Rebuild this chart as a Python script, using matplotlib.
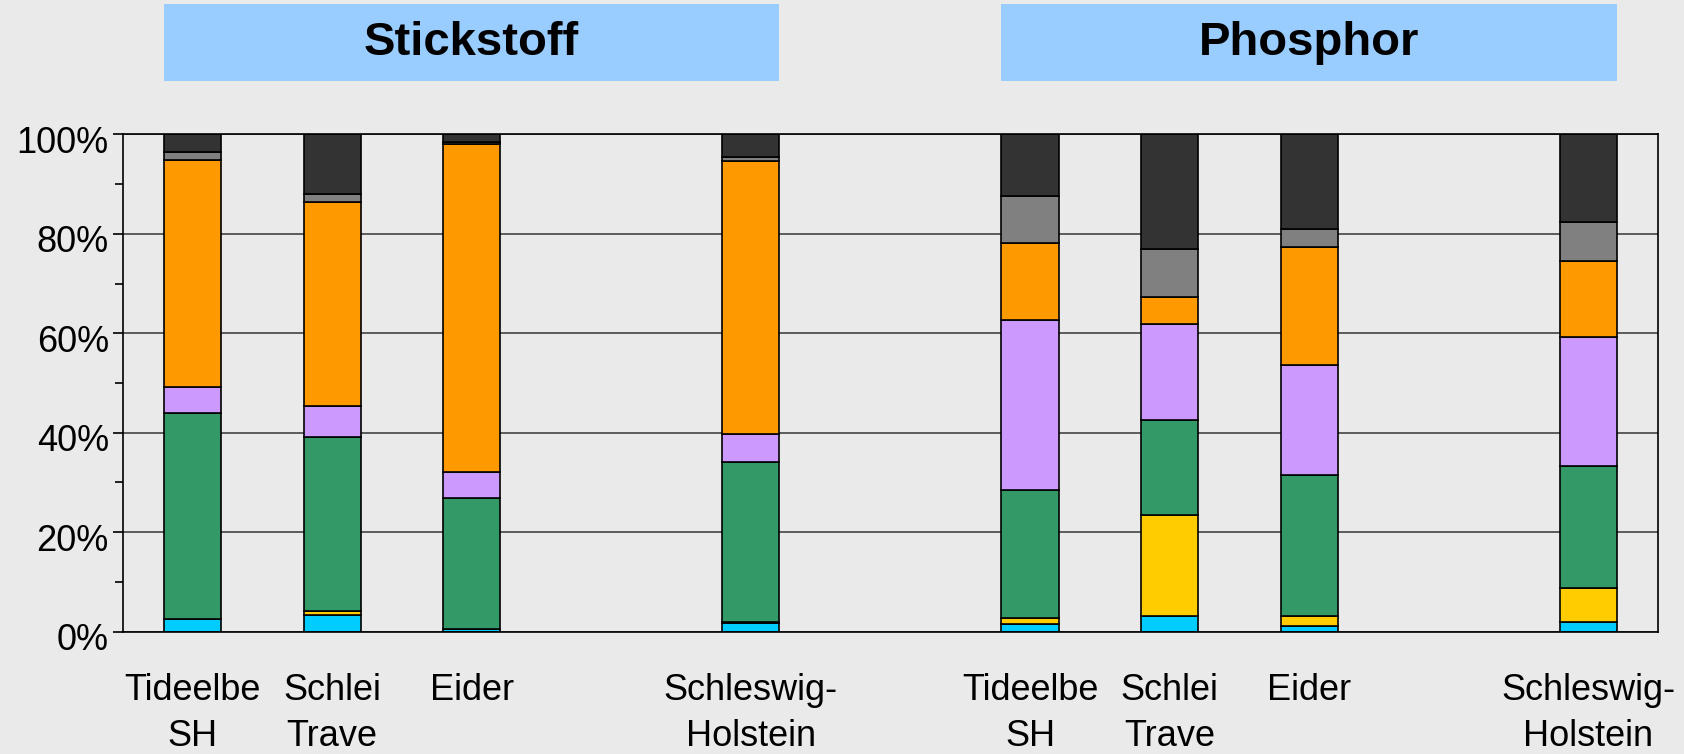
"""Stacked 100% bars: Stickstoff / Phosphor shares per region."""
import matplotlib
matplotlib.use("Agg")
import matplotlib.pyplot as plt
import numpy as np
from matplotlib.patches import Rectangle
from matplotlib.ticker import MultipleLocator, PercentFormatter
import matplotlib.transforms as mtransforms

# 11 slots on the category axis, empty strings are gaps
labels = ["Tideelbe\nSH", "Schlei\nTrave", "Eider", "", "Schleswig-\nHolstein", "",
          "Tideelbe\nSH", "Schlei\nTrave", "Eider", "", "Schleswig-\nHolstein"]
filled = [0, 1, 2, 4, 6, 7, 8, 10]

# shares in percent, bottom to top, one value per filled slot
cyan = [2.5, 3.3, 0.6, 1.8, 1.5, 3.2, 1.2, 2.0]
yellow = [0.0, 0.9, 0.0, 0.2, 1.2, 20.3, 1.9, 6.8]
green = [41.4, 34.9, 26.2, 32.2, 25.7, 19.1, 28.4, 24.6]
purple = [5.3, 6.2, 5.3, 5.5, 34.3, 19.2, 22.1, 25.9]
orange = [45.7, 41.0, 66.0, 55.0, 15.5, 5.5, 23.7, 15.2]
gray = [1.6, 1.7, 0.3, 0.7, 9.4, 9.6, 3.7, 7.8]
dark = [3.5, 12.0, 1.6, 4.6, 12.4, 23.1, 19.0, 17.7]

series = [cyan, yellow, green, purple, orange, gray, dark]
colors = ["#00CCFF", "#FFCC00", "#339966", "#CC99FF", "#FF9900", "#808080", "#333333"]

groups = [("Stickstoff", 0, 4), ("Phosphor", 6, 10)]

BG = "#EAEAEA"
plt.rcParams.update({"font.family": ["Liberation Sans", "DejaVu Sans"]})

fig = plt.figure(figsize=(16.84, 7.54), dpi=100, facecolor=BG)
ax = fig.add_axes([0.0729, 0.1622, 0.9117, 0.6597], facecolor=BG)

w = 0.41
x = np.array(filled, dtype=float)
bottom = np.zeros(len(filled))
for vals, c in zip(series, colors):
    ax.bar(x, vals, w, bottom=bottom, color=c, edgecolor="black", linewidth=1.2, zorder=3)
    bottom += np.array(vals)

ax.set_xlim(-0.5, 10.5)
ax.set_ylim(0, 100)
ax.set_xticks(range(len(labels)))
ax.set_xticklabels(labels, fontsize=26, linespacing=1.38)
ax.tick_params(axis="x", length=0, pad=30)
ax.yaxis.set_major_locator(MultipleLocator(20))
ax.yaxis.set_minor_locator(MultipleLocator(10))
ax.yaxis.set_major_formatter(PercentFormatter(decimals=0))
ax.tick_params(axis="y", which="major", labelsize=26, length=7, width=1.2, pad=3)
ax.tick_params(axis="y", which="minor", length=6, width=1.2)
ax.grid(axis="y", color="#444444", linewidth=1.2, zorder=0)
for s in ax.spines.values():
    s.set_linewidth(1.2)
    s.set_zorder(4)

# y labels sit a little below their ticks in the original
shift = mtransforms.ScaledTranslation(0, -5 / 100, fig.dpi_scale_trans)
for lbl in ax.get_yticklabels():
    lbl.set_transform(lbl.get_transform() + shift)

# title boxes spanning each group of bars
trans = mtransforms.blended_transform_factory(ax.transData, fig.transFigure)
for name, a, b in groups:
    x0, x1 = a - w / 2, b + w / 2
    fig.patches.append(Rectangle((x0, 0.8926), x1 - x0, 0.1021, transform=trans,
                                 facecolor="#99CCFF", edgecolor="none", figure=fig))
    fig.text((x0 + x1) / 2, 0.9436, name, transform=trans, ha="center", va="center",
             fontsize=34, fontweight="bold")

fig.savefig("out.png", dpi=100, facecolor=BG)
